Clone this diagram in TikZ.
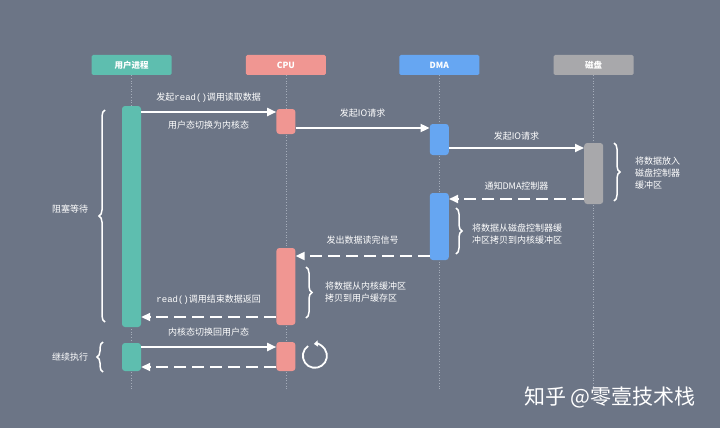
\documentclass[tikz,border=0pt]{standalone}
\usepackage{fontspec}
\setmainfont{Noto Sans CJK SC}
\setmonofont{Liberation Mono}
\usetikzlibrary{positioning,arrows.meta,decorations.pathreplacing}

\definecolor{slatebg}{RGB}{108,117,134}
\definecolor{userteal}{RGB}{94,190,175}
\definecolor{cpusalmon}{RGB}{240,150,146}
\definecolor{dmablue}{RGB}{102,166,242}
\definecolor{diskgray}{RGB}{168,168,171}
\definecolor{lifegray}{RGB}{165,173,186}

\begin{document}
\begin{tikzpicture}[
  x=1pt,y=-1pt,
  head/.style={rectangle,rounded corners=1.5pt,minimum width=80pt,minimum height=20pt,inner sep=0pt,text=white,font=\fontsize{8.5}{10}\selectfont\bfseries},
  bar/.style={rectangle,rounded corners=3pt,minimum width=19pt,inner sep=0pt},
  lifeline/.style={draw=lifegray,line width=0.7pt,dotted},
  msg/.style={draw=white,line width=1.8pt,-{Triangle[length=9pt,width=8pt]}},
  reply/.style={msg,dash pattern=on 12pt off 6pt},
  tag/.style={inner sep=0pt,text=white,font=\fontsize{9}{12}\selectfont},
  note/.style={tag,align=left,anchor=west},
  brace/.style={draw=white,line width=1.5pt,decorate,decoration={brace,amplitude=6pt}},
]
  % Background
  \fill[slatebg] (0,0) rectangle (720,428);

  % Participants
  \node[head,fill=userteal] (user) at (131.5,65) {用户进程};
  \node[head,fill=cpusalmon,right=74pt of user] (cpu) {CPU};
  \node[head,fill=dmablue,right=73pt of cpu] (dma) {DMA};
  \node[head,fill=diskgray,right=74pt of dma] (disk) {磁盘};

  % Lifelines
  \coordinate (userend) at (user |- 0,390);
  \coordinate (cpuend) at (cpu |- 0,390);
  \coordinate (dmaend) at (dma |- 0,390);
  \coordinate (diskend) at (disk |- 0,390);
  \draw[lifeline] (user.south) -- (userend);
  \draw[lifeline] (cpu.south) -- (cpuend);
  \draw[lifeline] (dma.south) -- (dmaend);
  \draw[lifeline] (disk.south) -- (diskend);

  % Activation bars
  \node[bar,fill=userteal,minimum height=221pt] (u1) at (user |- 0,216.5) {};
  \node[bar,fill=cpusalmon,minimum height=25pt] (c1) at (cpu |- 0,121.5) {};
  \node[bar,fill=dmablue,minimum height=31pt] (d1) at (dma |- 0,139.5) {};
  \node[bar,fill=diskgray,minimum height=61pt] (k1) at (disk |- 0,173.5) {};
  \node[bar,fill=dmablue,minimum height=67pt] (d2) at (dma |- 0,226.5) {};
  \node[bar,fill=cpusalmon,minimum height=77pt] (c2) at (cpu |- 0,286.5) {};
  \node[bar,fill=userteal,minimum height=28pt] (u2) at (user |- 0,357) {};
  \node[bar,fill=cpusalmon,minimum height=29pt] (c3) at (cpu |- 0,356.5) {};

  % Messages
  \draw[msg] (u1.east |- 0,112) -- node[tag,above=9pt] (callread) {发起\texttt{read()}调用读取数据}
    node[tag,below=8pt] (tokernel) {用户态切换为内核态} (c1.west |- 0,112);
  \draw[msg] (c1.east |- 0,128) -- node[tag,above=9.5pt] (ioreq) {发起IO请求} (d1.west |- 0,128);
  \draw[msg] (d1.east |- 0,148) -- node[tag,above=7pt] (diskreq) {发起IO请求} (k1.west |- 0,148);
  \draw[reply] (k1.west |- 0,199) -- node[tag,above=7.5pt] (notify) {通知DMA控制器} (d2.east |- 0,199);
  \draw[reply] (d2.west |- 0,256) -- node[tag,above=11pt] (readdone) {发出数据读完信号} (c2.east |- 0,256);
  \draw[reply] (c2.west |- 0,317) -- node[tag,above=12pt] (readret) {\texttt{read()}调用结束数据返回}
    node[tag,below=9.5pt] (touser) {内核态切换回用户态} (u1.east |- 0,317);
  \draw[msg] (u2.east |- 0,347) -- (c3.west |- 0,347);
  \draw[reply] (c3.west |- 0,367) -- (u2.east |- 0,367);

  % Braces and notes
  \draw[brace] (105,322) -- (105,110);
  \node[tag] (waiting) at (70,209) {阻塞等待};
  \draw[brace] (103,372) -- (103,342);
  \node[tag] (resume) at (70,357) {继续执行};
  \draw[brace] (614,143) -- (614,201);
  \node[note] (diskbuf) at (635,173) {将数据放入\\磁盘控制器\\缓冲区};
  \draw[brace] (456,208) -- (456,254);
  \node[note] (dmacopy) at (472,234) {将数据从磁盘控制器缓\\冲区拷贝到内核缓冲区};
  \draw[brace] (306,267) -- (306,318);
  \node[note] (cpucopy) at (325,292) {将数据从内核缓冲区\\拷贝到用户缓存区};

  % Running again
  \node[circle,minimum size=24pt,inner sep=0pt] (spin) at (315,356) {};
  \draw[white,line width=1.8pt,-{Triangle[length=4pt,width=6pt]}] (spin.125) arc[start angle=125,end angle=455,radius=12pt];

  % Watermark
  \node[anchor=west,inner sep=0pt,text=white,font=\fontsize{21}{24}\selectfont] (mark) at (524,397) {知乎 @零壹技术栈};
\end{tikzpicture}
\end{document}
